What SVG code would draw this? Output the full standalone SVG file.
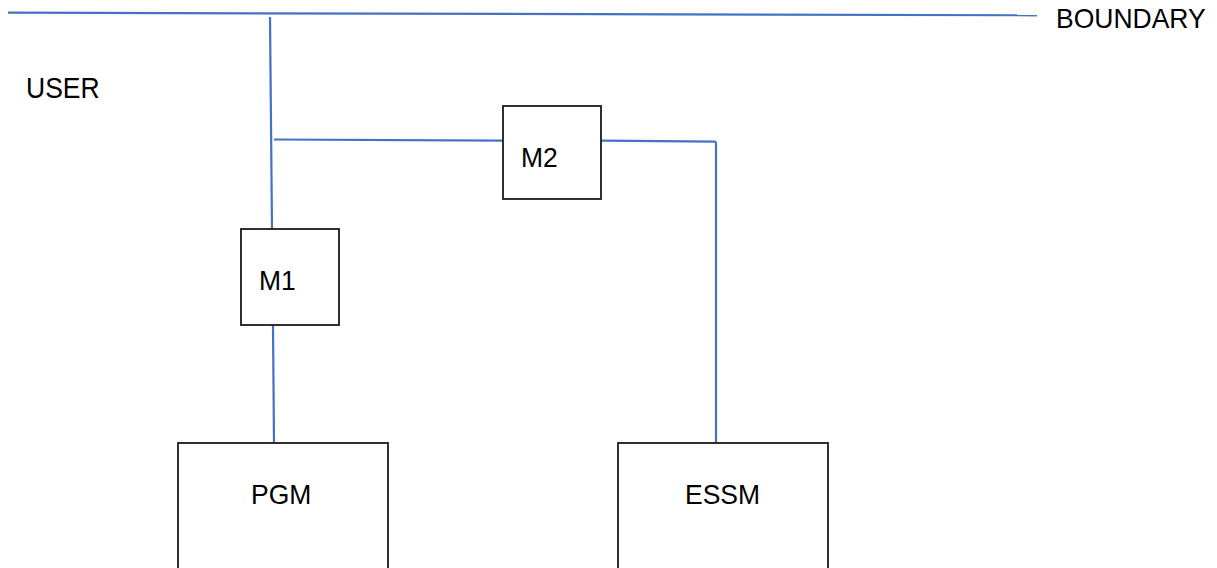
<svg xmlns="http://www.w3.org/2000/svg" width="1217" height="568" viewBox="0 0 1217 568">
<style>
.box{fill:#fff;stroke:#1a1a1a;stroke-width:1.8}
.ln{fill:none;stroke:#4472C4;stroke-width:2.2}
text{font-family:"Liberation Sans",Arial,sans-serif;font-size:26.5px;fill:#000}
</style>
<rect width="1217" height="568" fill="#fff"/>
<g id="connectors">
<line class="ln" x1="8" y1="12.7" x2="1037" y2="15.3"/>
<line class="ln" x1="270" y1="17" x2="272" y2="229"/>
<line class="ln" x1="274" y1="139.5" x2="503" y2="140.7"/>
<line class="ln" x1="601" y1="140.7" x2="716" y2="141.7"/>
<line class="ln" x1="716" y1="141.7" x2="716" y2="443"/>
<line class="ln" x1="273" y1="325" x2="274" y2="443"/>
</g>
<g id="boundary"><text transform="translate(1056,28.3) scale(1,1.05)">BOUNDARY</text></g>
<g id="user"><text transform="translate(26,97.7) scale(1,1.08)">USER</text></g>
<g id="m2"><rect class="box" x="503" y="106" width="98" height="93"/><text transform="translate(521,167.3) scale(1,1.07)">M2</text></g>
<g id="m1"><rect class="box" x="241" y="229" width="98" height="96"/><text transform="translate(259,290) scale(1,1.07)">M1</text></g>
<g id="pgm"><rect class="box" x="178" y="443" width="210" height="140"/><text transform="translate(251,504) scale(1,1.07)">PGM</text></g>
<g id="essm"><rect class="box" x="618" y="443" width="210" height="140"/><text transform="translate(685,504) scale(1,1.07)">ESSM</text></g>
</svg>
